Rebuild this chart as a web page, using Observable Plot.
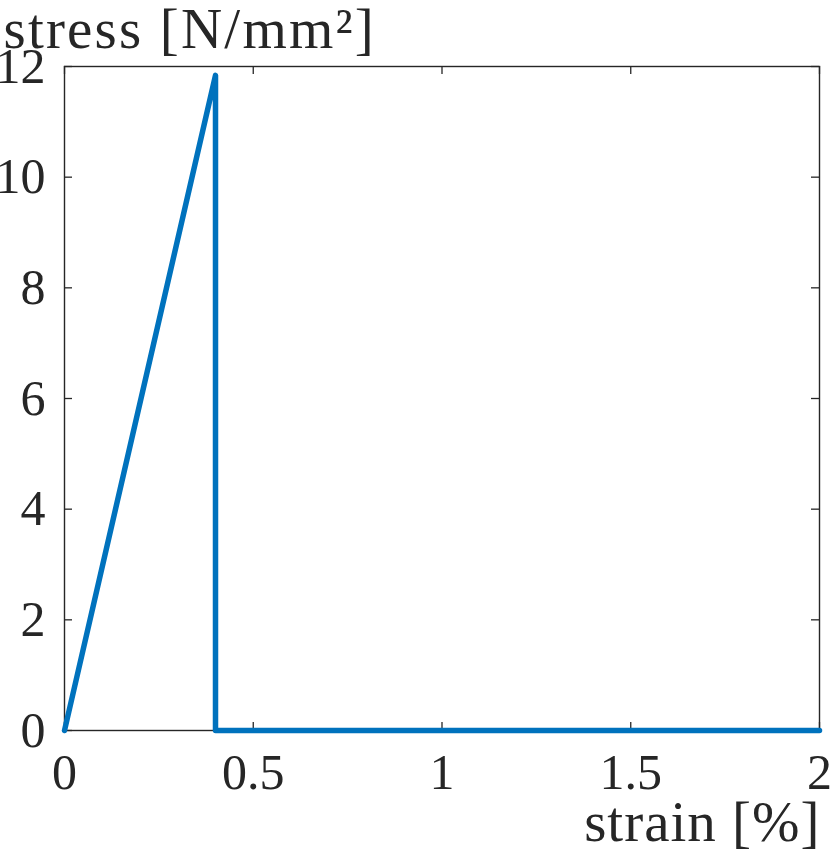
<!DOCTYPE html>
<html>
<head>
<meta charset="utf-8">
<script src="https://cdn.jsdelivr.net/npm/d3@7"></script>
<script src="https://cdn.jsdelivr.net/npm/@observablehq/plot@0.6"></script>
<style>
  html, body { margin: 0; padding: 0; background: #fff; }
  svg { display: block; }
  svg text { font-family: "Liberation Serif", serif !important; }
</style>
</head>
<body>
<div id="chart"></div>
<script>
const strain = [0, 0.4, 0.4, 2];
const stress = [0, 11.84, 0, 0];
const xTicks = [0, 0.5, 1, 1.5, 2];
const yTicks = [0, 2, 4, 6, 8, 10, 12];
const xLabel = "strain [%]";
const yLabel = "stress [N/mm²]";

const data = strain.map((s, i) => ({strain: s, stress: stress[i]}));

const W = 830, H = 862;
const mL = 64, mR = 11, mT = 66, mB = 132;
const innerW = W - mL - mR, innerH = H - mT - mB;
const tickLen = 8;
const font = "Liberation Serif";
const ink = "#262626";

const chart = Plot.plot({
  width: W,
  height: H,
  marginLeft: mL,
  marginRight: mR,
  marginTop: mT,
  marginBottom: mB,
  style: {fontFamily: font, color: ink, background: "#fff"},
  x: {domain: [0, 2]},
  y: {domain: [0, 12]},
  marks: [
    Plot.tickX(xTicks, {x: d => d, insetTop: innerH - tickLen, stroke: ink, strokeWidth: 1.3}),
    Plot.tickX(xTicks, {x: d => d, insetBottom: innerH - tickLen, stroke: ink, strokeWidth: 1.3}),
    Plot.tickY(yTicks, {y: d => d, insetRight: innerW - tickLen, stroke: ink, strokeWidth: 1.3}),
    Plot.tickY(yTicks, {y: d => d, insetLeft: innerW - tickLen, stroke: ink, strokeWidth: 1.3}),
    Plot.frame({stroke: ink, strokeWidth: 1.4}),
    Plot.axisX(xTicks, {tickSize: 0, tickPadding: 23, fontSize: 50, fontFamily: font, label: null, tickFormat: d => String(d), fill: ink}),
    Plot.axisY(yTicks, {tickSize: 0, tickPadding: 19, fontSize: 50, fontFamily: font, label: null, tickFormat: d => String(d), fill: ink}),
    Plot.line(data, {x: "strain", y: "stress", stroke: "#0072BD", strokeWidth: 5.5, strokeLinejoin: "round", strokeLinecap: "round"}),
    Plot.text([yLabel], {frameAnchor: "top-left", textAnchor: "start", lineAnchor: "bottom", dx: -61, dy: -19, fontSize: 57, fontFamily: font, fill: ink}),
    Plot.text([xLabel], {frameAnchor: "bottom-right", textAnchor: "end", lineAnchor: "bottom", dx: 0, dy: 110, fontSize: 57, fontFamily: font, fill: ink})
  ]
});
d3.select(chart).selectAll("text")
  .filter(function() { return this.textContent === yLabel; })
  .attr("letter-spacing", 2.2);
d3.select(chart).selectAll("text")
  .filter(function() { return this.textContent === xLabel; })
  .attr("letter-spacing", 1)
  .attr("dx", 1);
document.getElementById("chart").appendChild(chart);
</script>
</body>
</html>
